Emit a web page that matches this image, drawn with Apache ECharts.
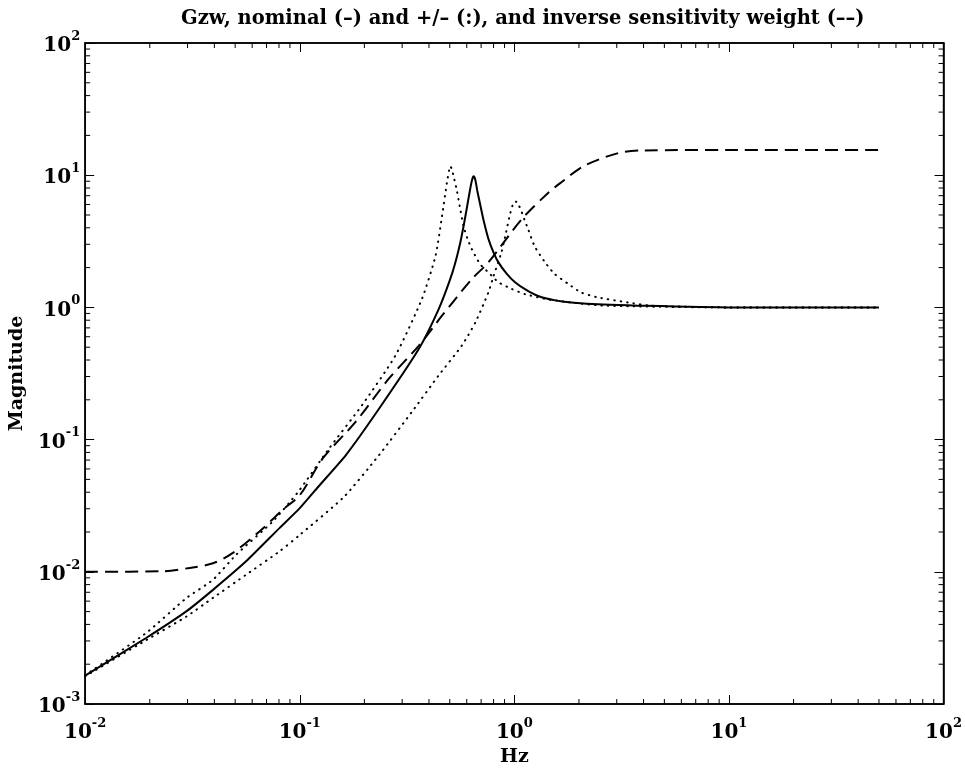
<!DOCTYPE html>
<html>
<head>
<meta charset="utf-8">
<script src="https://cdn.jsdelivr.net/npm/echarts@6/dist/echarts.min.js"></script>
<style>
  html, body { margin: 0; padding: 0; background: #fff; }
  #chart { width: 965px; height: 772px; }
</style>
</head>
<body>
<div id="chart"></div>
<script>
// nominal Gzw (solid)
const nomFreq = [0.01, 0.0193, 0.0297, 0.0394, 0.0562, 0.0804, 0.1, 0.122, 0.164, 0.234, 0.359, 0.444, 0.50, 0.531, 0.56, 0.58, 0.60, 0.62, 0.635, 0.646, 0.658, 0.672, 0.693, 0.72, 0.757, 0.80, 0.843, 0.92, 1.007, 1.14, 1.29, 1.55, 1.84, 2.6, 3.76, 10, 50];
const nomMag = [0.00164, 0.00317, 0.00504, 0.0073, 0.012, 0.0214, 0.0303, 0.044, 0.0763, 0.171, 0.486, 0.97, 1.6, 2.19, 3.1, 4.13, 5.6, 7.6, 9.2, 9.8, 9.2, 7.6, 6.0, 4.5, 3.3, 2.6, 2.19, 1.8, 1.55, 1.35, 1.22, 1.13, 1.09, 1.05, 1.03, 1.0, 1.0];

// + perturbation (dotted, low peak)
const plusFreq = [0.01, 0.0193, 0.0297, 0.0394, 0.0506, 0.0748, 0.098, 0.137, 0.195, 0.279, 0.371, 0.429, 0.46, 0.485, 0.497, 0.503, 0.512, 0.525, 0.54, 0.56, 0.58, 0.605, 0.634, 0.693, 0.757, 0.843, 0.971, 1.12, 1.39, 1.84, 2.63, 10, 50];
const plusMag = [0.00165, 0.00346, 0.00635, 0.0087, 0.0135, 0.024, 0.040, 0.0857, 0.182, 0.432, 1.16, 2.45, 4.9, 8.8, 11.0, 11.7, 11.0, 9.3, 7.6, 5.5, 4.1, 3.3, 2.75, 2.12, 1.84, 1.55, 1.38, 1.26, 1.16, 1.09, 1.03, 1.0, 1.0];

// - perturbation (dotted, high peak)
const minusFreq = [0.01, 0.0193, 0.0297, 0.0394, 0.0562, 0.0804, 0.1, 0.161, 0.234, 0.333, 0.444, 0.569, 0.658, 0.757, 0.80, 0.87, 0.915, 0.95, 0.98, 1.0, 1.02, 1.05, 1.08, 1.12, 1.16, 1.24, 1.39, 1.54, 1.79, 2.04, 2.45, 3.38, 4.33, 10, 50];
const minusMag = [0.00162, 0.00305, 0.0046, 0.00635, 0.0095, 0.01426, 0.019, 0.037, 0.0763, 0.162, 0.306, 0.514, 0.77, 1.30, 1.73, 2.6, 3.7, 4.9, 5.9, 6.3, 6.3, 5.9, 5.3, 4.5, 3.9, 2.92, 2.19, 1.79, 1.50, 1.30, 1.19, 1.09, 1.03, 1.0, 1.0];

// inverse sensitivity weight (dashed)
const wtFreq = [0.01, 0.0231, 0.0307, 0.0394, 0.0488, 0.0649, 0.0832, 0.1, 0.128, 0.182, 0.26, 0.359, 0.46, 0.634, 0.757, 1.08, 1.44, 1.65, 2.1, 3.05, 4.0, 10, 50];
const wtMag = [0.01, 0.0101, 0.0107, 0.0116, 0.0139, 0.0202, 0.0294, 0.038, 0.072, 0.136, 0.289, 0.514, 0.865, 1.64, 2.19, 4.63, 7.37, 8.8, 11.7, 14.7, 15.4, 15.5, 15.5];

const FONT = 'DejaVu Serif';

function pairs(xs, ys) {
  return xs.map((x, i) => [x, ys[i]]);
}

// minor ticks 2..9 x 10^k
const xMinor = [];
for (let k = -2; k <= 1; k++) for (let m = 2; m <= 9; m++) xMinor.push(m * Math.pow(10, k));
const yMinor = [];
for (let k = -3; k <= 1; k++) for (let m = 2; m <= 9; m++) yMinor.push(m * Math.pow(10, k));

function powLabel(v) {
  const e = Math.round(Math.log10(v));
  return '{b|10}{e|' + e + '}';
}
const powRich = {
  b: { fontFamily: FONT, fontWeight: 'bold', fontSize: 20, lineHeight: 26, verticalAlign: 'bottom', color: '#000' },
  e: { fontFamily: FONT, fontWeight: 'bold', fontSize: 13, lineHeight: 26, verticalAlign: 'top', color: '#000' }
};

function minorTicks(isX) {
  return function (params, api) {
    const cs = params.coordSys;
    const v = api.value(isX ? 0 : 1);
    const len = 5;
    const st = { stroke: '#000', lineWidth: 1 };
    if (isX) {
      const x = api.coord([v, 1])[0];
      return { type: 'group', children: [
        { type: 'line', shape: { x1: x, y1: cs.y + cs.height, x2: x, y2: cs.y + cs.height - len }, style: st },
        { type: 'line', shape: { x1: x, y1: cs.y, x2: x, y2: cs.y + len }, style: st }
      ]};
    }
    const y = api.coord([1, v])[1];
    return { type: 'group', children: [
      { type: 'line', shape: { x1: cs.x, y1: y, x2: cs.x + len, y2: y }, style: st },
      { type: 'line', shape: { x1: cs.x + cs.width, y1: y, x2: cs.x + cs.width - len, y2: y }, style: st }
    ]};
  };
}

const axLine = { show: true, lineStyle: { color: '#000', width: 1.5 } };
const axTick = { show: true, inside: true, length: 9, lineStyle: { color: '#000', width: 1 } };

let myChart = echarts.init(document.getElementById('chart'));
let option = {
  animation: false,
  backgroundColor: '#fff',
  title: {
    left: 176,
    top: 4,
    text: 'Gzw, nominal (–) and +/– (:), and inverse sensitivity weight (––)',
    textStyle: { fontFamily: FONT, fontWeight: 'bold', fontSize: 19.5, color: '#000' }
  },
  grid: { left: 85, right: 18, top: 43, bottom: 66, show: true, borderColor: '#000', borderWidth: 1.5 },
  xAxis: [{
    type: 'log', logBase: 10, min: 0.01, max: 100, splitNumber: 4,
    name: 'Hz', nameLocation: 'middle', nameGap: 44,
    nameTextStyle: { fontFamily: FONT, fontWeight: 'bold', fontSize: 19, color: '#000' },
    axisLine: axLine, axisTick: axTick, splitLine: { show: false },
    axisLabel: { margin: 13, formatter: powLabel, rich: powRich }
  }, {
    type: 'log', logBase: 10, min: 0.01, max: 100, splitNumber: 4, position: 'top',
    axisLine: axLine, axisTick: axTick, splitLine: { show: false }, axisLabel: { show: false }
  }],
  yAxis: [{
    type: 'log', logBase: 10, min: 0.001, max: 100, splitNumber: 5,
    name: 'Magnitude', nameLocation: 'middle', nameGap: 58,
    nameTextStyle: { fontFamily: FONT, fontWeight: 'bold', fontSize: 19, color: '#000' },
    axisLine: axLine, axisTick: axTick, splitLine: { show: false },
    axisLabel: { margin: 5, formatter: powLabel, rich: powRich }
  }, {
    type: 'log', logBase: 10, min: 0.001, max: 100, splitNumber: 5, position: 'right',
    axisLine: axLine, axisTick: axTick, splitLine: { show: false }, axisLabel: { show: false }
  }],
  series: [
    {
      name: 'nominal', type: 'line', symbol: 'none', smooth: 0.2,
      lineStyle: { color: '#000', width: 2 },
      data: pairs(nomFreq, nomMag)
    },
    {
      name: 'plus', type: 'line', symbol: 'none', smooth: 0.2,
      lineStyle: { color: '#000', width: 2, type: [0.5, 6], cap: 'round' },
      data: pairs(plusFreq, plusMag)
    },
    {
      name: 'minus', type: 'line', symbol: 'none', smooth: 0.2,
      lineStyle: { color: '#000', width: 2, type: [0.5, 6], cap: 'round' },
      data: pairs(minusFreq, minusMag)
    },
    {
      name: 'weight', type: 'line', symbol: 'none', smooth: 0.3,
      lineStyle: { color: '#000', width: 2, type: [13, 7] },
      data: pairs(wtFreq, wtMag)
    },
    {
      type: 'custom', silent: true, renderItem: minorTicks(true),
      data: xMinor.map(v => [v, 1])
    },
    {
      type: 'custom', silent: true, renderItem: minorTicks(false),
      data: yMinor.map(v => [1, v])
    }
  ]
};
myChart.setOption(option);
</script>
</body>
</html>
